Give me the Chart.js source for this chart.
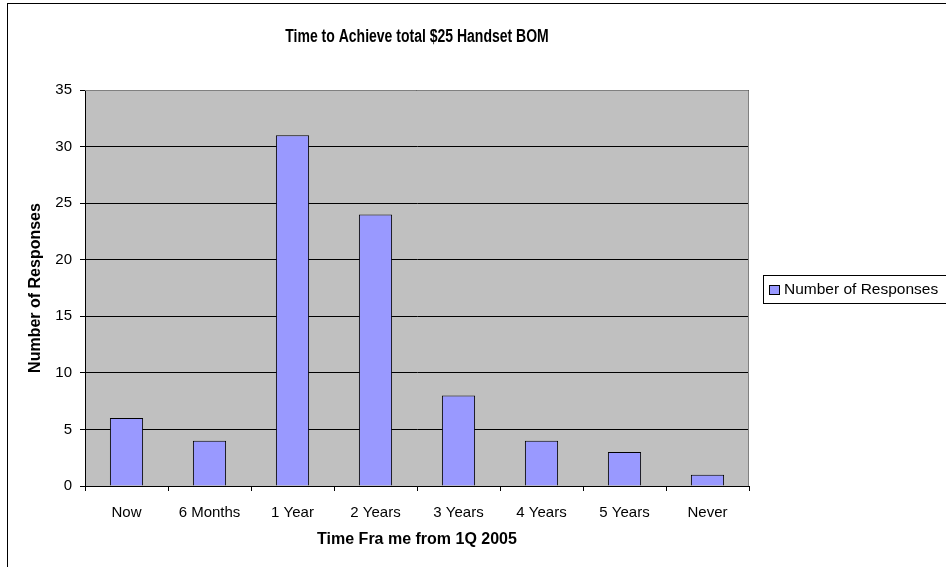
<!DOCTYPE html>
<html>
<head>
<meta charset="utf-8">
<script src="https://cdn.jsdelivr.net/npm/chart.js@4/dist/chart.umd.min.js"></script>
<style>
  html, body { margin: 0; padding: 0; background: #fff; }
  #wrap { position: absolute; left: 0; top: 0; width: 946px; height: 567px; }
</style>
</head>
<body>
<div id="wrap"><canvas id="chart" width="946" height="567"></canvas></div>
<script>
// chart data
const categories = ['Now', '6 Months', '1 Year', '2 Years', '3 Years', '4 Years', '5 Years', 'Never'];
const responses = [6, 4, 31, 24, 8, 4, 3, 1];
const seriesName = 'Number of Responses';
const chartTitle = 'Time to Achieve total $25 Handset BOM';
const yTicks = [0, 5, 10, 15, 20, 25, 30, 35];

const fontFamily = "'Liberation Sans', Arial, sans-serif";
const barFill = '#9999FF';

// gray plot background, title, outer frame and the boxed legend (Excel look)
const excelFrame = {
  id: 'excelFrame',
  beforeDraw(chart) {
    const { ctx, chartArea: a } = chart;
    ctx.save();
    ctx.fillStyle = '#C0C0C0';
    ctx.fillRect(a.left, a.top, a.right - a.left, a.bottom - a.top);
    ctx.restore();
  },
  afterDraw(chart) {
    const { ctx, chartArea: a } = chart;
    ctx.save();
    // plot border
    ctx.strokeStyle = '#808080';
    ctx.lineWidth = 1;
    ctx.beginPath();
    ctx.moveTo(a.left, a.top + 0.5);
    ctx.lineTo(a.right - 0.5, a.top + 0.5);
    ctx.lineTo(a.right - 0.5, a.bottom);
    ctx.stroke();

    // title, centred over the plot area (Excel draws it a bit tall)
    ctx.save();
    ctx.translate((a.left + a.right) / 2, 37);
    ctx.scale(1, 1.25);
    ctx.fillStyle = '#000';
    ctx.font = 'bold 14px ' + fontFamily;
    ctx.textAlign = 'center';
    ctx.textBaseline = 'middle';
    ctx.fillText(chartTitle, 0, 0);
    ctx.restore();

    // outer chart border
    ctx.strokeStyle = '#000';
    ctx.strokeRect(7.5, 3.5, 1200, 1200);

    // legend
    const lx = 763, ly = 275, lh = 28;
    ctx.strokeStyle = '#000';
    ctx.strokeRect(lx + 0.5, ly + 0.5, 400, lh);
    ctx.fillStyle = barFill;
    ctx.fillRect(lx + 6.5, ly + 10.5, 10, 9);
    ctx.strokeRect(lx + 6.5, ly + 10.5, 10, 9);
    ctx.fillStyle = '#000';
    ctx.font = '15.5px ' + fontFamily;
    ctx.textBaseline = 'middle';
    ctx.fillText(chart.data.datasets[0].label, lx + 21, ly + 15);
    ctx.restore();
  }
};

new Chart(document.getElementById('chart'), {
  type: 'bar',
  data: {
    labels: categories,
    datasets: [{
      label: seriesName,
      data: responses,
      backgroundColor: barFill,
      borderColor: '#000',
      borderWidth: 1,
      barPercentage: 0.4,
      categoryPercentage: 1.0
    }]
  },
  options: {
    responsive: false,
    animation: false,
    layout: { padding: { left: 0, right: 197, top: 90, bottom: 0 } },
    plugins: {
      legend: { display: false },
      tooltip: { enabled: false },
      title: { display: false }
    },
    scales: {
      x: {
        offset: true,
        grid: {
          offset: true,
          drawOnChartArea: false,
          drawTicks: true,
          tickLength: 5,
          color: '#000'
        },
        border: { color: '#000' },
        ticks: { color: '#000', font: { family: fontFamily, size: 15 }, padding: 13 },
        title: {
          display: true,
          text: 'Time Fra me from 1Q 2005',
          color: '#000',
          font: { family: fontFamily, size: 16, weight: 'bold' },
          padding: { top: 4, bottom: 18 }
        },
        afterFit(scale) { scale.height = 81; }
      },
      y: {
        min: 0,
        max: 35,
        afterBuildTicks(scale) { scale.ticks = yTicks.map(v => ({ value: v })); },
        grid: { color: '#000', tickLength: 5 },
        border: { color: '#000' },
        ticks: { color: '#000', font: { family: fontFamily, size: 15 }, padding: 8 },
        title: {
          display: true,
          text: seriesName,
          color: '#000',
          font: { family: fontFamily, size: 16, weight: 'bold' },
          padding: { top: 26, bottom: 0 }
        },
        afterFit(scale) { scale.width = 85; }
      }
    }
  },
  plugins: [excelFrame]
});
</script>
</body>
</html>
